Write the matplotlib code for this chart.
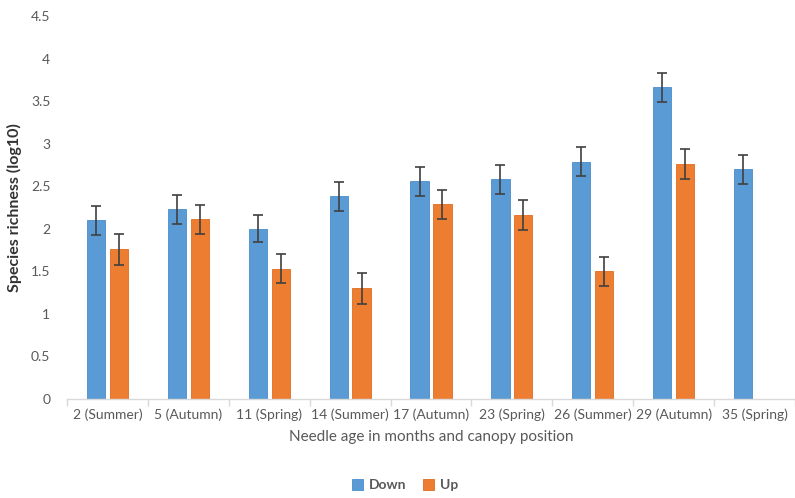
import numpy as np
import matplotlib
matplotlib.use("Agg")
import matplotlib.pyplot as plt
from matplotlib.ticker import FixedLocator

categories = ["2 (Summer)", "5 (Autumn)", "11 (Spring)", "14 (Summer)", "17 (Autumn)",
              "23 (Spring)", "26 (Summer)", "29 (Autumn)", "35 (Spring)"]
down = [2.10, 2.23, 2.00, 2.38, 2.56, 2.58, 2.79, 3.66, 2.70]
down_err = [0.17, 0.17, 0.16, 0.17, 0.17, 0.17, 0.17, 0.17, 0.17]
up = [1.76, 2.11, 1.53, 1.30, 2.29, 2.16, 1.50, 2.76, None]
up_err = [0.18, 0.17, 0.17, 0.18, 0.17, 0.18, 0.17, 0.18, None]

plt.rcParams['font.family'] = ['Lato', 'DejaVu Sans']

fig = plt.figure(figsize=(7.95, 4.98), dpi=100)
ax = fig.add_axes([67 / 795, 1 - 399 / 498, 728 / 795, 383 / 498])

x = np.arange(len(categories))
w = 0.225
off = 0.142
err_kw = dict(ecolor="#404040", elinewidth=1.2, capsize=3.5, capthick=1.2)

ax.bar(x - off, down, w, yerr=down_err, color="#5B9BD5", edgecolor="#4A8CCB",
       linewidth=0.6, label="Down", error_kw=err_kw)
xu = [xi + off for xi, v in zip(x, up) if v is not None]
vu = [v for v in up if v is not None]
eu = [e for e in up_err if e is not None]
ax.bar(xu, vu, w, yerr=eu, color="#ED7D31", edgecolor="#E06C1F",
       linewidth=0.6, label="Up", error_kw=err_kw)

ax.set_xlim(-0.5, len(categories) - 0.5)
ax.set_ylim(0, 4.5)
ax.set_yticks(np.arange(0, 4.51, 0.5))
ax.set_yticklabels(["0", "0.5", "1", "1.5", "2", "2.5", "3", "3.5", "4", "4.5"])
ax.set_xticks(x)
ax.set_xticklabels(categories)
ax.xaxis.set_minor_locator(FixedLocator(np.arange(-0.5, len(categories), 1.0)))

for s in ["top", "right", "left"]:
    ax.spines[s].set_visible(False)
ax.spines["bottom"].set_color("#D9D9D9")
ax.spines["bottom"].set_linewidth(1.0)

ax.tick_params(axis="x", which="major", length=0, labelsize=10, colors="#595959", pad=7)
ax.tick_params(axis="x", which="minor", length=5, color="#D9D9D9", width=1.0)
ax.tick_params(axis="y", length=0, labelsize=10, colors="#595959", pad=12)

ax.set_ylabel("Species richness (log10)", fontsize=11.5, fontweight="bold", color="#333333")
ax.yaxis.set_label_coords(-0.062, 0.5)
ax.set_xlabel("Needle age in months and canopy position", fontsize=11, color="#595959", labelpad=6)

fig.legend(loc="lower center", bbox_to_anchor=(405 / 795, -0.012), ncol=2, frameon=False,
           handlelength=0.8, handleheight=0.8, handletextpad=0.4, columnspacing=1.2,
           prop={"size": 10, "weight": "bold"}, labelcolor="#595959")

fig.savefig("out.png", dpi=100)
